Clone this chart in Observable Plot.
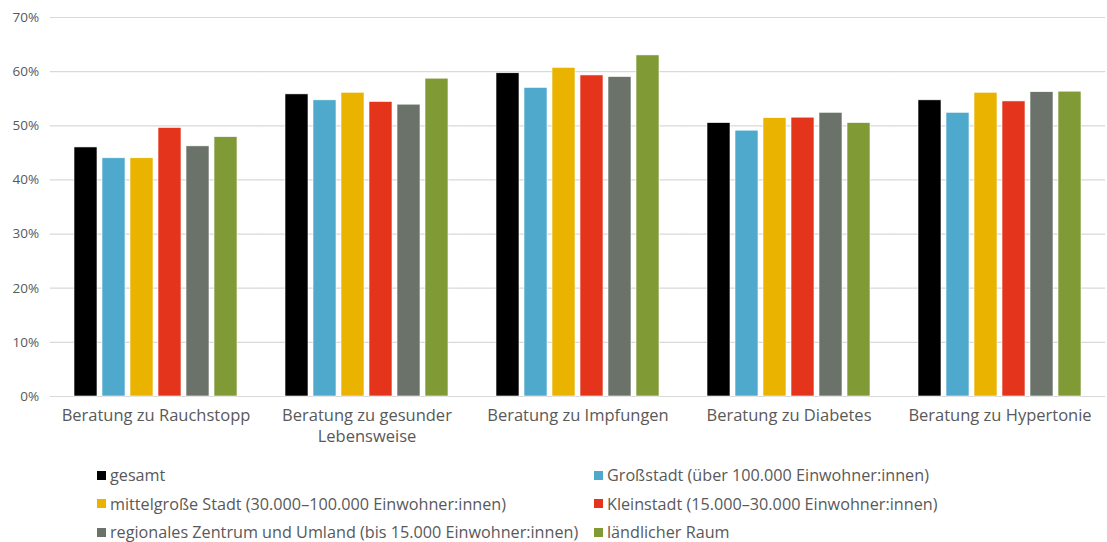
<!DOCTYPE html>
<html>
<head>
<meta charset="utf-8">
<script src="https://cdn.jsdelivr.net/npm/d3@7"></script>
<script src="https://cdn.jsdelivr.net/npm/@observablehq/plot@0.6"></script>
<style>
  body { margin: 0; background: #fff; font-family: "Open Sans", sans-serif; }
  #legend { display: grid; grid-template-columns: 497px 500px; padding-left: 97px; margin-top: 15px; row-gap: 8.5px; color: #595959; font-size: 16.2px; }
  .item { display: flex; align-items: center; height: 20px; white-space: nowrap; }
  .sw { width: 9px; height: 9px; margin-right: 4px; flex: none; }
</style>
</head>
<body>
<div id="chart"></div>
<div id="legend"></div>
<script>
const categories = ["Beratung zu Rauchstopp", "Beratung zu gesunder Lebensweise", "Beratung zu Impfungen", "Beratung zu Diabetes", "Beratung zu Hypertonie"];
const categoryLabels = ["Beratung zu Rauchstopp", "Beratung zu gesunder\nLebensweise", "Beratung zu Impfungen", "Beratung zu Diabetes", "Beratung zu Hypertonie"];
const series = ["gesamt", "Großstadt (über 100.000 Einwohner:innen)", "mittelgroße Stadt (30.000–100.000 Einwohner:innen)", "Kleinstadt (15.000–30.000 Einwohner:innen)", "regionales Zentrum und Umland (bis 15.000 Einwohner:innen)", "ländlicher Raum"];
const colors = ["#000000", "#4FA9CC", "#E9B300", "#E4341C", "#6A7269", "#809B35"];
const gesamt        = [46.0, 55.8, 59.7, 50.5, 54.7];
const grossstadt    = [44.0, 54.7, 57.0, 49.1, 52.4];
const mittelgross   = [44.0, 56.1, 60.7, 51.4, 56.1];
const kleinstadt    = [49.6, 54.4, 59.3, 51.5, 54.5];
const regional      = [46.2, 53.9, 59.0, 52.4, 56.2];
const laendlich     = [47.9, 58.7, 63.0, 50.5, 56.3];
const yTicks = [0, 10, 20, 30, 40, 50, 60, 70];

const valuesBySeries = [gesamt, grossstadt, mittelgross, kleinstadt, regional, laendlich];
const data = [];
categories.forEach((c, ci) => series.forEach((s, si) => data.push({category: c, series: s, value: valuesBySeries[si][ci]})));

const W = 1107, ML = 48, MR = 0;
const padIn = 0.22, padOut = 0.11;
const step = (W - ML - MR) / (categories.length - padIn + 2 * padOut);
const half = padOut * step; // equals half of the inner gap

const chart = Plot.plot({
  width: W,
  height: 450,
  marginTop: 17,
  marginBottom: 54,
  marginLeft: ML,
  marginRight: MR,
  style: {fontFamily: "'Open Sans', sans-serif", color: "#595959", background: "#fff"},
  fx: {domain: categories, paddingInner: padIn, paddingOuter: padOut},
  x: {domain: series, paddingInner: 0.18, paddingOuter: 0, axis: null},
  y: {domain: [0, 70], axis: null},
  color: {domain: series, range: colors},
  marks: [
    Plot.ruleY(yTicks, {stroke: "#d9d9d9", strokeWidth: 1.2, insetLeft: -half, insetRight: -half}),
    Plot.axisY(yTicks, {tickSize: 0, tickPadding: 11, dx: -half, tickFormat: d => d + "%", fontSize: 13.5, label: null}),
    Plot.axisFx({anchor: "bottom", tickSize: 0, tickPadding: 9, fontSize: 16.5, lineHeight: 1.3, label: null, tickFormat: d => categoryLabels[categories.indexOf(d)]}),
    Plot.barY(data, {fx: "category", x: "series", y: "value", fill: "series", stroke: "#fff", strokeWidth: 0.6})
  ]
});
document.getElementById("chart").appendChild(chart);

const legend = document.getElementById("legend");
series.forEach((s, i) => {
  const it = document.createElement("div");
  it.className = "item";
  const sw = document.createElement("span");
  sw.className = "sw";
  sw.style.background = colors[i];
  it.appendChild(sw);
  it.appendChild(document.createTextNode(s));
  legend.appendChild(it);
});
</script>
</body>
</html>
